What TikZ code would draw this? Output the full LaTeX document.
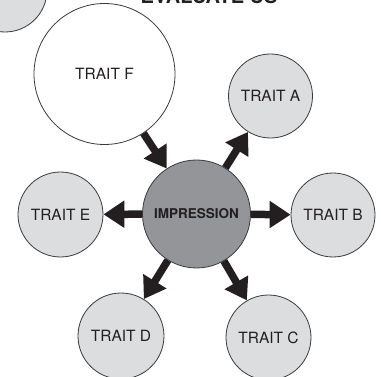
\documentclass[tikz,border=0pt]{standalone}
\usepackage{fontspec}
\setmainfont{TeX Gyre Heros}
\usetikzlibrary{arrows.meta}
\definecolor{traitfill}{HTML}{DCDDDF}
\definecolor{impfill}{HTML}{939598}
\definecolor{inkc}{HTML}{231F20}
\definecolor{edgec}{HTML}{3A3A3C}
\tikzset{
  trait/.style={circle, draw=edgec, line width=0.8pt, fill=traitfill, inner sep=0pt, text=inkc, font=\fontsize{15.5}{17}\selectfont},
  bigtrait/.style={trait, fill=white},
  imp/.style={circle, draw=edgec, line width=0.8pt, fill=impfill, inner sep=0pt, text=inkc, font=\bfseries\fontsize{13.5}{15}\selectfont},
  fatarrow/.style={draw=inkc, line width=7.5pt, -{Triangle[width=26pt,length=21pt]}, color=inkc},
}
\begin{document}
\begin{tikzpicture}[x=1pt,y=-1pt]
\useasboundingbox (0,0) rectangle (381,377);
\clip (0,0) rectangle (381,377);
\node[trait, minimum size=84pt] (G) at (5,-10) {};
\node[anchor=base, text=inkc, font=\bfseries\fontsize{20}{22}\selectfont] (title) at (209,4) {EVALUATE US};
\node[bigtrait, minimum size=141pt] (F) at (104.5,74) {TRAIT F};
\node[imp, minimum size=108pt] (I) at (196.5,214) {IMPRESSION};
\node[trait, minimum size=84pt] (A) at (270.5,96) {TRAIT A};
\node[trait, minimum size=84pt] (B) at (333,215) {TRAIT B};
\node[trait, minimum size=85pt] (E) at (60.5,214.5) {TRAIT E};
\node[trait, minimum size=86pt] (D) at (121,336) {TRAIT D};
\node[trait, minimum size=85pt] (C) at (268.5,337.5) {TRAIT C};
\draw[fatarrow] (F) -- (I);
\draw[fatarrow] (I) -- (A);
\draw[fatarrow] (I) -- (B);
\draw[fatarrow] (I) -- (E);
\draw[fatarrow] (I) -- (D);
\draw[fatarrow] (I) -- (C);
\end{tikzpicture}
\end{document}
